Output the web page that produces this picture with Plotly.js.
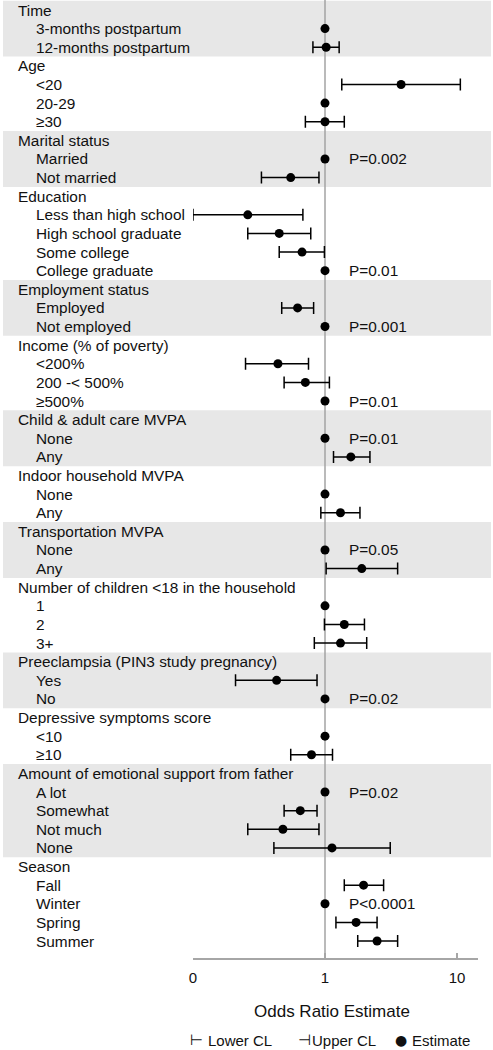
<!DOCTYPE html>
<html>
<head>
<meta charset="utf-8">
<script src="https://cdn.plot.ly/plotly-3.0.1.min.js"></script>
<style>html,body{margin:0;padding:0;background:#fff;}#chart{width:493px;height:1050px;}</style>
</head>
<body>
<div id="chart"></div>
<script>
// ---- Data ----
const groups = ["Time", "Age", "Marital status", "Education", "Employment status",
  "Income (% of poverty)", "Child & adult care MVPA", "Indoor household MVPA",
  "Transportation MVPA", "Number of children <18 in the household",
  "Preeclampsia (PIN3 study pregnancy)", "Depressive symptoms score",
  "Amount of emotional support from father", "Season"];
const groupSizes = [2, 3, 2, 4, 2, 3, 2, 2, 2, 3, 2, 2, 4, 4];
const levels = ["3-months postpartum", "12-months postpartum",
  "<20", "20-29", "≥30",
  "Married", "Not married",
  "Less than high school", "High school graduate", "Some college", "College graduate",
  "Employed", "Not employed",
  "<200%", "200 -< 500%", "≥500%",
  "None", "Any",
  "None", "Any",
  "None", "Any",
  "1", "2", "3+",
  "Yes", "No",
  "<10", "≥10",
  "A lot", "Somewhat", "Not much", "None",
  "Fall", "Winter", "Spring", "Summer"];
const estimate = [1, 1.02,
  3.77, 1, 1.0,
  1, 0.55,
  0.26, 0.45, 0.67, 1,
  0.62, 1,
  0.44, 0.71, 1,
  1, 1.57,
  1, 1.31,
  1, 1.90,
  1, 1.40, 1.31,
  0.43, 1,
  1, 0.79,
  1, 0.65, 0.48, 1.13,
  1.96, 1, 1.72, 2.48];
const lowerCL = [null, 0.81,
  1.34, null, 0.71,
  null, 0.33,
  0.10, 0.26, 0.45, null,
  0.47, null,
  0.25, 0.49, null,
  null, 1.16,
  null, 0.93,
  null, 1.02,
  null, 0.99, 0.83,
  0.21, null,
  null, 0.55,
  null, 0.49, 0.26, 0.41,
  1.40, null, 1.21, 1.77];
const upperCL = [null, 1.28,
  10.6, null, 1.40,
  null, 0.90,
  0.68, 0.78, 0.99, null,
  0.82, null,
  0.75, 1.08, null,
  null, 2.19,
  null, 1.84,
  null, 3.55,
  null, 1.99, 2.07,
  0.87, null,
  null, 1.14,
  null, 0.87, 0.90, 3.12,
  2.78, null, 2.48, 3.55];
const pValues = ["", "",
  "", "", "",
  "P=0.002", "",
  "", "", "", "P=0.01",
  "", "P=0.001",
  "", "", "P=0.01",
  "P=0.01", "",
  "", "",
  "P=0.05", "",
  "", "", "",
  "", "P=0.02",
  "", "",
  "P=0.02", "", "", "",
  "", "P<0.0001", "", ""];
const tickVals = [0.1, 1, 10];
const tickText = ["0", "1", "10"];
const legendSymbols = ["⊢", "⊣", "●"];
const legendLabels = ["Lower CL", "Upper CL", "Estimate"];
const axisTitle = "Odds Ratio Estimate";

// ---- Layout helpers ----
const W = 493, H = 1050, ML = 193, MR = 15, MT = 0, MB = 92;
const PW = W - ML - MR, PH = H - MT - MB;
const px2paperX = p => (p - ML) / PW;
const px2paperY = p => (H - MB - p) / PH;
const esc = s => s.replace(/&/g, '&amp;').replace(/</g, '&lt;').replace(/>/g, '&gt;');

const FONT = "Liberation Sans, Arial, sans-serif";
const TXT = '#111';
const FS = 15.4;
const annotations = [];
const shapes = [];
const ptY = [], ptX = [], errP = [], errM = [];
let row = 0, k = 0;
groups.forEach((g, gi) => {
  const startRow = row;
  annotations.push({xref: 'paper', yref: 'y', x: px2paperX(16), y: -row, text: esc(g),
    showarrow: false, xanchor: 'left', yanchor: 'middle', font: {family: FONT, size: FS, color: TXT}});
  row++;
  for (let j = 0; j < groupSizes[gi]; j++, k++, row++) {
    annotations.push({xref: 'paper', yref: 'y', x: px2paperX(34), y: -row, text: esc(levels[k]),
      showarrow: false, xanchor: 'left', yanchor: 'middle', font: {family: FONT, size: FS, color: TXT}});
    if (pValues[k]) {
      annotations.push({xref: 'paper', yref: 'y', x: px2paperX(347), y: -row, text: esc(pValues[k]),
        showarrow: false, xanchor: 'left', yanchor: 'middle', font: {family: FONT, size: FS, color: TXT}});
    }
    ptX.push(estimate[k]);
    ptY.push(-row);
    errP.push(upperCL[k] == null ? NaN : upperCL[k] - estimate[k]);
    errM.push(lowerCL[k] == null ? NaN : estimate[k] - lowerCL[k]);
  }
  const endRow = row - 1;
  if (gi % 2 === 0) {
    shapes.push({type: 'rect', xref: 'paper', yref: 'y', layer: 'below',
      x0: px2paperX(3), x1: px2paperX(491), y0: -startRow + 0.5, y1: -endRow - 0.5,
      fillcolor: '#e7e7e7', line: {width: 0}});
  }
});
const totalRows = row;

// reference line at OR = 1
shapes.push({type: 'line', xref: 'x', yref: 'paper', x0: 1, x1: 1, y0: 0, y1: 1,
  line: {color: '#a3a3a3', width: 1.5}, layer: 'below'});

// legend (symbols + text)
const legSymX = [188, 296, 393];
const legSymSize = [15, 15, 14];
const legTxtX = [206, 310, 410];
legendLabels.forEach((t, i) => {
  annotations.push({xref: 'paper', yref: 'paper', x: px2paperX(legSymX[i]), y: px2paperY(1040), text: legendSymbols[i],
    showarrow: false, xanchor: 'left', yanchor: 'middle', font: {family: "DejaVu Sans, sans-serif", size: legSymSize[i], color: TXT}});
  annotations.push({xref: 'paper', yref: 'paper', x: px2paperX(legTxtX[i]), y: px2paperY(1040), text: esc(t),
    showarrow: false, xanchor: 'left', yanchor: 'middle', font: {family: FONT, size: 15, color: TXT}});
});
// axis title
annotations.push({xref: 'paper', yref: 'paper', x: px2paperX(332), y: px2paperY(1011), text: axisTitle,
  showarrow: false, xanchor: 'center', yanchor: 'middle', font: {family: FONT, size: 17, color: TXT}});

const trace = {
  type: 'scatter', mode: 'markers', x: ptX, y: ptY,
  marker: {color: '#000', size: 9},
  error_x: {type: 'data', symmetric: false, array: errP, arrayminus: errM,
    color: '#000', thickness: 1.5, width: 6},
  cliponaxis: false, showlegend: false, hoverinfo: 'skip'
};

const layout = {
  width: W, height: H,
  margin: {l: ML, r: MR, t: MT, b: MB, pad: 0},
  paper_bgcolor: '#fff', plot_bgcolor: 'rgba(0,0,0,0)',
  showlegend: false,
  font: {family: FONT, color: TXT},
  xaxis: {type: 'log', range: [-1, -1 + PW / 132], tickvals: tickVals, ticktext: tickText,
    showgrid: false, zeroline: false, showline: true, linecolor: '#a6a6a6', linewidth: 1.5,
    ticks: 'inside', ticklen: 5, tickwidth: 1.5, tickcolor: '#a6a6a6',
    tickfont: {family: FONT, size: 15, color: TXT}, ticklabelstandoff: 5, fixedrange: true},
  yaxis: {range: [-(totalRows - 1) - 0.913, 0.537], showgrid: false, zeroline: false, showline: false,
    showticklabels: false, ticks: '', fixedrange: true},
  annotations: annotations, shapes: shapes
};

Plotly.newPlot('chart', [trace], layout, {staticPlot: true, displayModeBar: false});
</script>
</body>
</html>
